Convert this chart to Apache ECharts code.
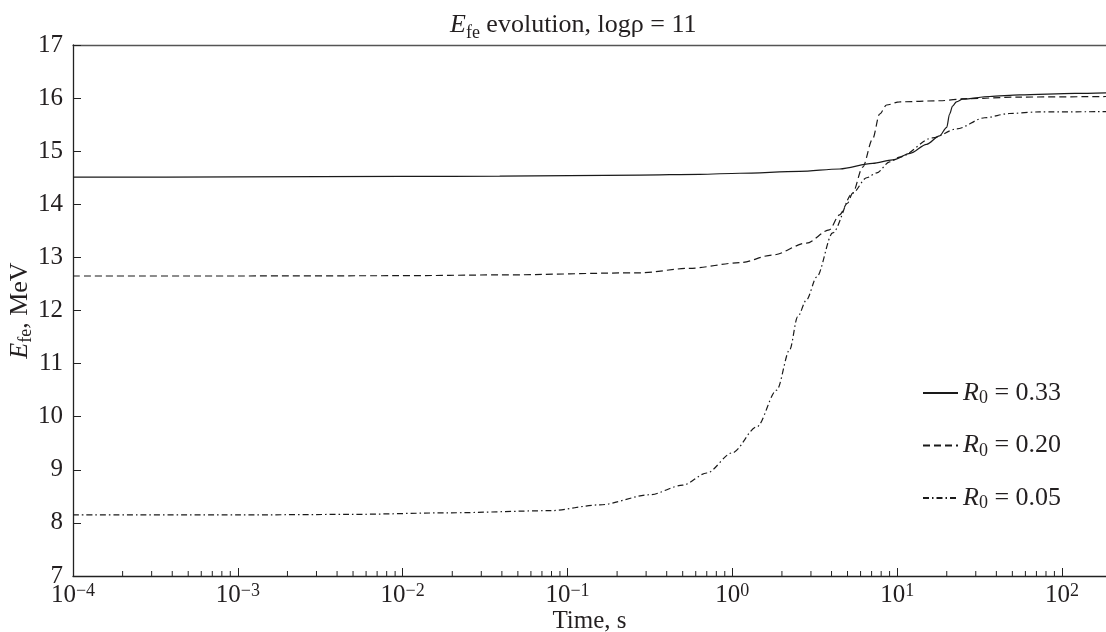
<!DOCTYPE html>
<html>
<head>
<meta charset="utf-8">
<title>E_fe evolution</title>
<script src="https://cdn.jsdelivr.net/npm/echarts@6/dist/echarts.min.js"></script>
<style>
  html, body { margin: 0; padding: 0; background: #fff; }
  #chart { width: 1106px; height: 632px; }
</style>
</head>
<body>
<div id="chart"></div>
<script>
// Fermi energy of electrons vs. time for three initial R0 values (log rho = 11)
const SERIF = "'Liberation Serif', 'Times New Roman', serif";
const INK = '#231f20';

// Axis ranges and ticks
const X_MIN = 1e-4;
const X_MAX = 185;
const Y_MIN = 7;
const Y_MAX = 17;
const minorMultipliers = [2, 3, 4, 5, 6, 7, 8, 9];
const decades = [1e-4, 1e-3, 1e-2, 1e-1, 1, 10, 100];

// Legend values
const r0Values = ['0.33', '0.20', '0.05'];

// R0 = 0.33 (solid)
const tSolid = [1e-4, 0.001, 0.01, 0.0388, 0.274, 0.634, 1.11, 2.56, 4.48, 7.10, 9.40, 12.0, 15.1, 18.1, 20.0, 20.8, 21.7, 22.9, 25.0, 36.4, 55.3, 120, 185];
const eSolid = [14.51, 14.515, 14.525, 14.53, 14.55, 14.565, 14.585, 14.62, 14.665, 14.77, 14.835, 14.96, 15.13, 15.29, 15.45, 15.70, 15.85, 15.93, 15.98, 16.03, 16.06, 16.09, 16.10];

// R0 = 0.20 (dashed)
const tDashed = [1e-4, 0.001, 0.0096, 0.0388, 0.274, 0.552, 1.11, 1.76, 2.82, 3.88, 4.47, 5.00, 5.37, 6.18, 7.10, 7.83, 8.63, 10.35, 18.1, 26.4, 55.3, 185];
const eDashed = [12.65, 12.65, 12.655, 12.67, 12.71, 12.795, 12.90, 13.045, 13.27, 13.52, 13.80, 14.02, 14.21, 14.70, 15.23, 15.70, 15.87, 15.93, 15.95, 15.99, 16.02, 16.03];

// R0 = 0.05 (dash-dot)
const tDashDot = [1e-4, 0.001, 0.00479, 0.0193, 0.0782, 0.157, 0.316, 0.50, 0.70, 1.0, 1.41, 1.86, 2.23, 2.49, 2.82, 3.25, 4.06, 5.37, 6.53, 7.52, 9.0, 10.35, 16.4, 23.0, 34.0, 48.1, 73.1, 185];
const eDashDot = [8.15, 8.15, 8.16, 8.19, 8.23, 8.34, 8.53, 8.71, 8.94, 9.32, 9.81, 10.50, 11.26, 11.88, 12.20, 12.63, 13.46, 14.21, 14.50, 14.59, 14.80, 14.89, 15.25, 15.42, 15.63, 15.71, 15.74, 15.745];

const zip = (xs, ys) => xs.map((x, i) => [x, ys[i]]);

// minor tick positions 2..9 within each decade
const minorTicks = [];
decades.forEach(d => minorMultipliers.forEach(m => {
  const t = d * m;
  if (t < X_MAX) minorTicks.push([t, Y_MIN]);
}));

const supText = n => (n < 0 ? '\u2212' + (-n) : String(n));

const lineSeries = (name, data, type) => ({
  name,
  type: 'line',
  data,
  symbol: 'none',
  smooth: 0.3,
  smoothMonotone: 'x',
  lineStyle: { color: '#1a1a1a', width: 1.2, type },
  itemStyle: { color: '#1a1a1a' },
  z: 3
});

const chart = echarts.init(document.getElementById('chart'), null, { renderer: 'canvas' });

chart.setOption({
  backgroundColor: '#fff',
  animation: false,
  textStyle: { fontFamily: SERIF, color: INK },
  title: {
    text: '{e|E}{s|fe}{t| evolution, log\u03c1 = 11}',
    left: 445,
    top: 5,
    textStyle: {
      fontWeight: 'normal',
      rich: {
        e: { fontFamily: SERIF, fontSize: 26, fontStyle: 'italic', fontWeight: 'normal', color: INK, verticalAlign: 'bottom', lineHeight: 28 },
        s: { fontFamily: SERIF, fontSize: 18, fontWeight: 'normal', color: INK, verticalAlign: 'bottom', lineHeight: 20, padding: [0, 0, -4, 0] },
        t: { fontFamily: SERIF, fontSize: 26, fontWeight: 'normal', color: INK, verticalAlign: 'bottom', lineHeight: 28 }
      }
    }
  },
  grid: { left: 73, right: 0, top: 45, bottom: 56, containLabel: false, outerBoundsMode: 'none' },
  legend: {
    orient: 'vertical',
    left: 922,
    top: 380,
    padding: 0,
    itemWidth: 35,
    itemHeight: 14,
    itemGap: 25,
    itemStyle: { color: 'transparent', borderColor: 'transparent', borderWidth: 0, opacity: 0 },
    formatter: name => '{i|R}{s|0}{n| = ' + name.split('= ')[1] + '}',
    textStyle: {
      rich: {
        i: { fontFamily: SERIF, fontSize: 26, fontStyle: 'italic', color: INK },
        s: { fontFamily: SERIF, fontSize: 18, color: INK, padding: [11, 0, 0, 0] },
        n: { fontFamily: SERIF, fontSize: 26, color: INK }
      }
    },
    data: r0Values.map(v => 'R0 = ' + v)
  },
  xAxis: [{
    type: 'log',
    logBase: 10,
    min: X_MIN,
    max: X_MAX,
    name: 'Time, s',
    nameLocation: 'middle',
    nameGap: 33,
    nameMoveOverlap: false,
    nameTextStyle: { fontFamily: SERIF, fontSize: 25, color: INK },
    axisLine: { lineStyle: { color: '#222', width: 1.3 } },
    axisTick: { inside: true, length: 8, lineStyle: { color: '#222', width: 1 } },
    splitLine: { show: false },
    axisLabel: {
      margin: 6,
      showMaxLabel: false,
      formatter: v => {
        const e = Math.log10(v);
        if (Math.abs(e - Math.round(e)) > 1e-6) return '';
        return '{b|10}{s|' + supText(Math.round(e)) + '}';
      },
      rich: {
        b: { fontFamily: SERIF, fontSize: 25, color: INK, verticalAlign: 'bottom', lineHeight: 26 },
        s: { fontFamily: SERIF, fontSize: 18, color: INK, verticalAlign: 'top', lineHeight: 16 }
      }
    }
  }, {
    type: 'log',
    logBase: 10,
    min: X_MIN,
    max: X_MAX,
    position: 'top',
    axisLine: { show: true, lineStyle: { color: '#555', width: 1.3 } },
    axisTick: { show: false },
    axisLabel: { show: false },
    splitLine: { show: false }
  }],
  yAxis: {
    type: 'value',
    min: Y_MIN,
    max: Y_MAX,
    interval: 1,
    name: '{e|E}{s|fe}{t|, MeV}',
    nameLocation: 'middle',
    nameGap: 38,
    nameMoveOverlap: false,
    nameRotate: 90,
    nameTextStyle: {
      rich: {
        e: { fontFamily: SERIF, fontSize: 26, fontStyle: 'italic', color: INK },
        s: { fontFamily: SERIF, fontSize: 18, color: INK, padding: [11, 0, 0, 0] },
        t: { fontFamily: SERIF, fontSize: 26, color: INK }
      }
    },
    axisLine: { show: true, lineStyle: { color: '#222', width: 1.3 } },
    axisTick: { inside: true, length: 8, lineStyle: { color: '#222', width: 1 } },
    splitLine: { show: false },
    axisLabel: { margin: 10, fontFamily: SERIF, fontSize: 25, color: INK }
  },
  series: [
    lineSeries('R0 = ' + r0Values[0], zip(tSolid, eSolid), 'solid'),
    lineSeries('R0 = ' + r0Values[1], zip(tDashed, eDashed), [7, 4]),
    lineSeries('R0 = ' + r0Values[2], zip(tDashDot, eDashDot), [6, 3, 1.5, 3]),
    {
      name: 'minor ticks',
      type: 'custom',
      silent: true,
      data: minorTicks,
      encode: { x: 0, y: 1 },
      renderItem: (params, api) => {
        const p = api.coord([api.value(0), api.value(1)]);
        return {
          type: 'line',
          shape: { x1: p[0], y1: p[1], x2: p[0], y2: p[1] - 5 },
          style: { stroke: '#222', lineWidth: 1 }
        };
      },
      z: 4
    }
  ]
});
</script>
</body>
</html>
